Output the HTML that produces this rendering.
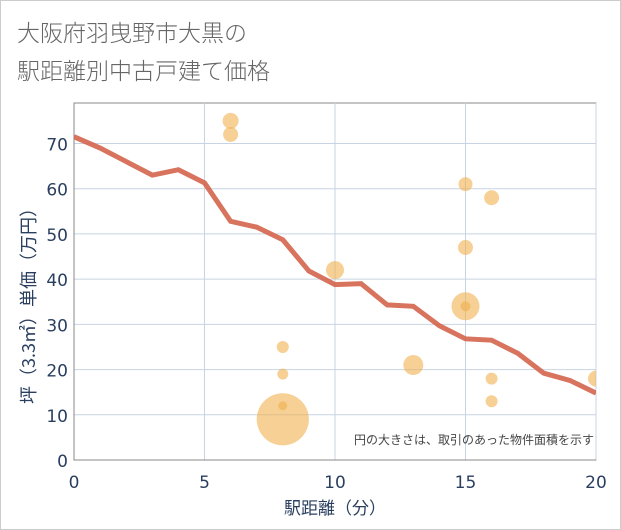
<!DOCTYPE html>
<html><head><meta charset="utf-8"><style>
body{margin:0;background:#fff;font-family:"Liberation Sans","Noto Sans CJK JP",sans-serif}
#wrap{position:relative;width:619px;height:528px;border:1px solid #ccc;background:#fff}
</style></head><body>
<div id="wrap">
<svg id="chart" width="619" height="528" style="position:absolute;left:0;top:0">
<text x="16" y="40" font-size="23" fill="#666" font-family="Noto Sans CJK JP,sans-serif" font-weight="300">大阪府羽曳野市大黒の</text>
<text x="16" y="78" font-size="23" fill="#666" font-family="Noto Sans CJK JP,sans-serif" font-weight="300">駅距離別中古戸建て価格</text>
</svg>
</div>
<script>
const lineX=[0,1,2,3,4,5,6,7,8,9,10,11,12,13,14,15,16,17,18,19,20];
const lineY=[71.5,69,66,63,64.2,61.3,52.8,51.5,48.7,41.8,38.8,39,34.3,34,29.7,26.8,26.5,23.6,19.2,17.6,14.8];
const bubX=[6,6,8,8,8,8,10,13,15,15,15,15,16,16,16,20];
const bubY=[75,72,25,19,12,9,42,21,61,47,34,34,58,18,13,18];
const bubS=[64,56,36,30,20,680,81,100,49,56,196,25,56,36,36,64];
const xTicks=[0,5,10,15,20];
const yTicks=[0,10,20,30,40,50,60,70];
const NS="http://www.w3.org/2000/svg";
const svg=document.getElementById('chart');
const L=73,R=595,T=102,B=459;
const sx=v=>L+(R-L)*v/20, sy=v=>459-v*(459-142.5)/70;
const TF='DejaVu Sans,sans-serif';
function mk(t,a){const e=document.createElementNS(NS,t);for(const k in a)e.setAttribute(k,a[k]);svg.appendChild(e);return e;}
let g;
g=mk('rect',{x:L,y:T,width:R-L,height:B-T,fill:'#fff',stroke:'#888','stroke-width':1});


xTicks.forEach(v=>{const l=mk('line',{x1:sx(v),x2:sx(v),y1:T,y2:B,stroke:'#c8d4e3'});


const t=mk('text',{x:sx(v),y:B+28,'text-anchor':'middle','font-size':17,fill:'#2a3f5f','font-family':TF});t.textContent=v;

});
yTicks.forEach(v=>{const l=mk('line',{x1:L,x2:R,y1:sy(v),y2:sy(v),stroke:'#c8d4e3'});


const t=mk('text',{x:L-6,y:sy(v)+7,'text-anchor':'end','font-size':17,fill:'#2a3f5f','font-family':TF});t.textContent=v;

});
mk('line',{x1:L,x2:R,y1:B,y2:B,stroke:'#888'});
mk('line',{x1:L,x2:L,y1:T,y2:B,stroke:'#888'});
const cp=mk('clipPath',{id:'cp'});const cr=document.createElementNS(NS,'rect');cr.setAttribute('x',L);cr.setAttribute('y',T);cr.setAttribute('width',R-L);cr.setAttribute('height',B-T);cp.appendChild(cr);
bubX.forEach((x,i)=>{const c=mk('circle',{cx:sx(x),cy:sy(bubY[i]),r:Math.sqrt(bubS[i]),fill:'#f0b04e','fill-opacity':0.6,'clip-path':'url(#cp)'});

});
const p=mk('polyline',{points:lineX.map((x,i)=>sx(x)+','+sy(lineY[i])).join(' '),fill:'none',stroke:'#d4644c','stroke-width':5,'stroke-opacity':0.9,'clip-path':'url(#cp)'});


let t=mk('text',{x:R-2,y:443,'text-anchor':'end','font-size':12,fill:'#444','font-family':'Noto Sans CJK JP,sans-serif'});t.textContent='円の大きさは、取引のあった物件面積を示す';


t=mk('text',{x:(L+R)/2,y:513,'text-anchor':'middle','font-size':17,fill:'#2a3f5f','font-family':'Noto Sans CJK JP,sans-serif'});t.textContent='駅距離（分）';


t=mk('text',{x:0,y:0,'text-anchor':'middle','font-size':18,fill:'#2a3f5f','font-family':'Noto Sans CJK JP,sans-serif',transform:'translate(34,'+((T+B)/2+20)+') rotate(-90)'});t.textContent='坪（3.3㎡）単価（万円）';


</script>
</body></html>
